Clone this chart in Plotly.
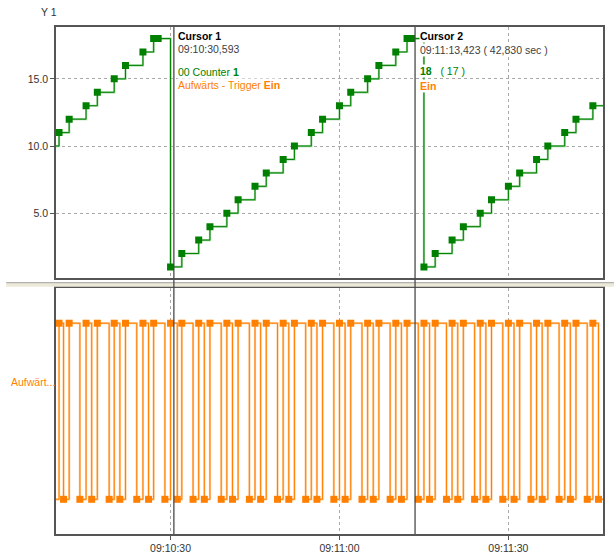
import pandas as pd
import plotly.graph_objects as go

# ---------------- data (seconds after 09:10:00) ----------------
counter_t = [7.0, 10.2, 12.0, 15.0, 17.0, 20.0, 22.0, 25.1, 27.0, 27.8,
             30.0, 32.0, 35.0, 37.0, 40.0, 42.0, 45.0, 47.0, 50.0, 52.0,
             55.0, 57.0, 60.0, 62.0, 65.0, 67.0, 70.0, 72.0, 72.8,
             75.0, 77.0, 80.0, 82.0, 85.0, 87.0, 90.0, 92.0, 95.0, 97.0,
             100.0, 102.0, 105.0]
counter_v = [10, 11, 12, 13, 14, 15, 16, 17, 18, 18,
             1, 2, 3, 4, 5, 6, 7, 8, 9, 10,
             11, 12, 13, 14, 15, 16, 17, 18, 18,
             1, 2, 3, 4, 5, 6, 7, 8, 9, 10,
             11, 12, 13]

trigger_t = [9.0, 10.2, 11.0, 12.0, 13.9, 15.0, 16.0, 17.0, 19.1, 20.0, 21.0, 22.0,
             24.0, 25.1, 26.1, 27.0, 29.0, 30.0, 31.2, 32.0, 34.0, 35.0, 36.0, 37.0,
             39.0, 40.0, 41.0, 42.0, 44.0, 45.0, 46.0, 47.0, 49.0, 50.0, 51.0, 52.0,
             54.0, 55.0, 56.0, 57.0, 59.0, 60.0, 61.0, 62.0, 64.0, 65.0, 66.0, 67.0,
             69.0, 70.0, 71.0, 72.0, 74.0, 75.0, 76.0, 77.0, 79.0, 80.0, 81.0, 82.0,
             84.0, 85.0, 86.0, 87.0, 89.0, 90.0, 91.0, 92.0, 94.0, 95.0, 96.0, 97.0,
             99.0, 100.0, 101.0, 102.0, 104.0, 105.0, 106.0]
trigger_v = [0, 1, 0, 1, 0, 1, 0, 1, 0, 1, 0, 1,
             0, 1, 0, 1, 0, 1, 0, 1, 0, 1, 0, 1,
             0, 1, 0, 1, 0, 1, 0, 1, 0, 1, 0, 1,
             0, 1, 0, 1, 0, 1, 0, 1, 0, 1, 0, 1,
             0, 1, 0, 1, 0, 1, 0, 1, 0, 1, 0, 1,
             0, 1, 0, 1, 0, 1, 0, 1, 0, 1, 0, 1,
             0, 1, 0, 1, 0, 1, 0]

view_start = 9.66
record_end = 106.8
cursor1_t = 30.593
cursor2_t = 73.423
x_tick_secs = [30, 60, 90]
x_tick_labels = ["09:10:30", "09:11:00", "09:11:30"]
y_ticks = [5, 10, 15]

base = pd.Timestamp("2024-01-01 09:10:00")


def ts(s):
    if isinstance(s, (list, tuple)):
        return [base + pd.to_timedelta(v, unit="s") for v in s]
    return base + pd.to_timedelta(s, unit="s")


GREEN = "#008000"
GREEN_L = "#9ad49a"
ORANGE = "#ff8000"
ORANGE_L = "#ffcc99"
FONT = "Tahoma, 'Liberation Sans', Arial, sans-serif"

fig = go.Figure()

# counter (top panel)
c_line_t = counter_t + [record_end]
c_line_v = counter_v + [counter_v[-1]]
fig.add_trace(go.Scatter(x=ts(c_line_t), y=c_line_v, mode="lines", line=dict(color=GREEN_L, width=2.2, shape="hv"),
                         xaxis="x", yaxis="y", hoverinfo="skip", showlegend=False))
fig.add_trace(go.Scatter(x=ts(c_line_t), y=c_line_v, mode="lines", line=dict(color=GREEN, width=1, shape="hv"),
                         xaxis="x", yaxis="y", showlegend=False))
fig.add_trace(go.Scatter(x=ts(counter_t), y=counter_v, mode="markers",
                         marker=dict(symbol="square", size=7, color=GREEN, line=dict(width=0)),
                         xaxis="x", yaxis="y", showlegend=False))

# trigger (bottom panel)
t_line_t = trigger_t + [record_end]
t_line_v = trigger_v + [trigger_v[-1]]
fig.add_trace(go.Scatter(x=ts(t_line_t), y=t_line_v, mode="lines", line=dict(color=ORANGE_L, width=2.2, shape="hv"),
                         xaxis="x2", yaxis="y2", hoverinfo="skip", showlegend=False))
fig.add_trace(go.Scatter(x=ts(t_line_t), y=t_line_v, mode="lines", line=dict(color=ORANGE, width=1, shape="hv"),
                         xaxis="x2", yaxis="y2", showlegend=False))
fig.add_trace(go.Scatter(x=ts(trigger_t), y=trigger_v, mode="markers",
                         marker=dict(symbol="square", size=7, color=ORANGE, line=dict(width=0)),
                         xaxis="x2", yaxis="y2", showlegend=False))

# vertical compensation factor (rendered page height vs requested)
S = 555.0 / 547.0
W = 614
H = int(round(555 * S))
ML, MR = 56, 9
MT = 27 * S
MB = H - 534 * S
PH = H - MT - MB
PW = W - ML - MR


def py(px):
    return (H - MB - px * S) / PH


def pxx(px):
    return (px - ML) / PW


xr = [ts(view_start), ts(record_end)]
axis_common = dict(showline=True, linecolor="#555555", linewidth=1.5, mirror=True, zeroline=False)
fig.update_layout(
    width=W, height=H, autosize=False,
    margin=dict(l=ML, r=MR, t=MT, b=MB, pad=0),
    paper_bgcolor="white", plot_bgcolor="white",
    font=dict(family=FONT, size=10.5, color="#333333"),
    xaxis=dict(domain=[0, 1], anchor="y", range=xr, matches="x2", showticklabels=False,
               tickvals=ts(x_tick_secs), ticks="", showgrid=True, gridcolor="#a8a8a8",
               griddash="3px,3px", gridwidth=1, **axis_common),
    yaxis=dict(domain=[py(277.7), 1], anchor="x", range=[0.2, 18.86], tickvals=y_ticks,
               tickformat=".1f", ticks="outside", ticklen=4, tickcolor="#555555",
               showgrid=True, gridcolor="#a8a8a8", griddash="3px,3px", gridwidth=1, **axis_common),
    xaxis2=dict(domain=[0, 1], anchor="y2", range=xr, tickvals=ts(x_tick_secs), ticktext=x_tick_labels,
                ticks="outside", ticklen=4, tickcolor="#555555", showgrid=True, gridcolor="#a8a8a8",
                griddash="3px,3px", gridwidth=1, **axis_common),
    yaxis2=dict(domain=[0, py(288)], anchor="x2", range=[-0.197, 1.2], showticklabels=False,
                ticks="", showgrid=False, **axis_common),
)

shapes = [
    dict(type="rect", xref="paper", yref="paper", x0=pxx(6), x1=pxx(616), y0=py(286.7), y1=py(282.7),
         fillcolor="#ece9d8", line=dict(width=0), layer="above"),
    dict(type="line", xref="paper", yref="paper", x0=pxx(6), x1=pxx(616), y0=py(282.7), y1=py(282.7),
         line=dict(color="#a0a0a0", width=1), layer="above"),
]
for ct in (cursor1_t, cursor2_t):
    shapes.append(dict(type="line", xref="x", yref="paper", x0=ts(ct), x1=ts(ct), y0=0, y1=1,
                       line=dict(color="#4a4a4a", width=1.3), layer="above"))
fig.update_layout(shapes=shapes)

annotations = [
    dict(text="Y 1", x=pxx(39), y=py(11.7), xanchor="left", yanchor="middle",
         font=dict(size=10.5, color="#333333")),
    dict(text="Aufwärt...", x=pxx(9), y=py(382.5), xanchor="left", yanchor="middle",
         font=dict(size=10.5, color=ORANGE)),
]
cursor_lines = [
    (cursor1_t, [
        ("<b>Cursor 1</b>", 35.7, "#000000"),
        ("09:10:30,593", 49.3, "#404040"),
        ("00 Counter <b>1</b>", 71.7, GREEN),
        ("Aufwärts - Trigger <b>Ein</b>", 85.3, ORANGE),
    ]),
    (cursor2_t, [
        ("<b>Cursor 2</b>", 35.7, "#000000"),
        ("09:11:13,423 ( 42,830 sec )", 49.7, "#404040"),
        ("<b>18</b>&nbsp;&nbsp; ( 17 )", 71.3, GREEN),
        ("<b>Ein</b>", 85.7, ORANGE),
    ]),
]
for ct, lines in cursor_lines:
    for txt, ypx, col in lines:
        annotations.append(dict(text=txt, xref="x", x=ts(ct), xshift=3.5, yref="paper", y=py(ypx),
                                xanchor="left", yanchor="middle", showarrow=False,
                                bgcolor="white", borderpad=0,
                                font=dict(size=10.5, color=col)))
for a in annotations:
    a.setdefault("xref", "paper")
    a.setdefault("yref", "paper")
    a.setdefault("showarrow", False)
fig.update_layout(annotations=annotations)

fig.write_html("out.html", config={"displayModeBar": False, "responsive": False},
               post_script="document.body.style.margin='0';")
